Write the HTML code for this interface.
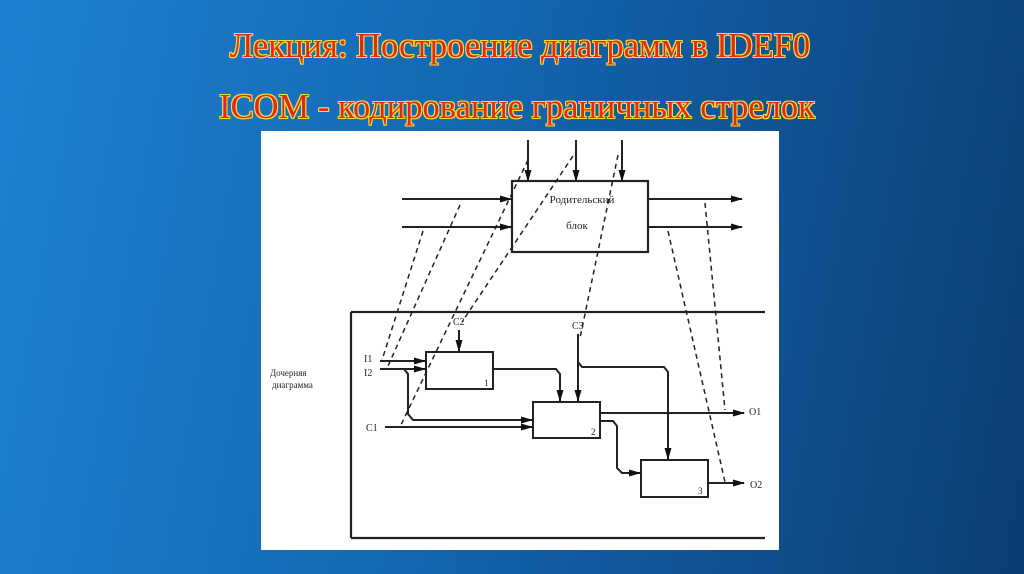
<!DOCTYPE html>
<html><head><meta charset="utf-8"><style>
html,body{margin:0;padding:0}
body{width:1024px;height:574px;overflow:hidden;position:relative;background:linear-gradient(100deg,#1e82d2 0%,#1466b0 45%,#0b3d72 100%);font-family:"Liberation Serif",serif}
.t{position:absolute;left:0;width:1024px;text-align:center;color:#e0281c;font-family:"Liberation Serif",serif;font-size:34.5px;
text-shadow:1px 0 #f2e23a,-1px 0 #f2e23a,0 1px #f2e23a,0 -1px #f2e23a,1px 1px #f2e23a,-1px -1px #f2e23a,1px -1px #f2e23a,-1px 1px #f2e23a;}
svg{position:absolute;left:0;top:0}
</style></head><body>
<div class="t" style="top:27px;left:8px">Лекция: Построение диаграмм в IDEF0</div>
<div class="t" style="top:88px;left:5px">ICOM - кодирование граничных стрелок</div>
<svg width="1024" height="574" viewBox="0 0 1024 574">
<defs><marker id="a" markerWidth="12" markerHeight="8" refX="11" refY="4" orient="auto" markerUnits="userSpaceOnUse"><path d="M0,0.5 L12,4 L0,7.5z" fill="#111"/></marker></defs>
<rect x="261" y="131" width="518" height="419" fill="#fff"/>
<g stroke="#222" stroke-width="2" fill="none">
<rect x="512" y="181" width="136" height="71" stroke-width="2.2"/>
<line x1="528" y1="140" x2="528" y2="181" marker-end="url(#a)"/>
<line x1="576" y1="140" x2="576" y2="181" marker-end="url(#a)"/>
<line x1="622" y1="140" x2="622" y2="181" marker-end="url(#a)"/>
<line x1="402" y1="199" x2="511" y2="199" marker-end="url(#a)"/>
<line x1="402" y1="227" x2="511" y2="227" marker-end="url(#a)"/>
<line x1="649" y1="199" x2="742" y2="199" marker-end="url(#a)"/>
<line x1="649" y1="227" x2="742" y2="227" marker-end="url(#a)"/>
<line x1="351" y1="312" x2="765" y2="312" stroke-width="2.2"/>
<line x1="351" y1="312" x2="351" y2="538" stroke-width="2.2"/>
<line x1="351" y1="538" x2="765" y2="538" stroke-width="2.2"/>
<rect x="426" y="352" width="67" height="37"/>
<rect x="533" y="402" width="67" height="36"/>
<rect x="641" y="460" width="67" height="37"/>
<line x1="380" y1="361" x2="425" y2="361" marker-end="url(#a)"/>
<line x1="380" y1="369" x2="425" y2="369" marker-end="url(#a)"/>
<polyline points="404,369 408,374 408,414 413,420 532,420" marker-end="url(#a)"/>
<line x1="385" y1="427" x2="532" y2="427" marker-end="url(#a)"/>
<line x1="459" y1="330" x2="459" y2="351" marker-end="url(#a)"/>
<line x1="578" y1="334" x2="578" y2="401" marker-end="url(#a)"/>
<polyline points="578,362 582,367 664,367 668,372 668,459" marker-end="url(#a)"/>
<polyline points="493,369 556,369 560,374 560,401" marker-end="url(#a)"/>
<line x1="600" y1="413" x2="744" y2="413" marker-end="url(#a)"/>
<polyline points="600,421 613,421 617,426 617,468 622,473 640,473" marker-end="url(#a)"/>
<line x1="708" y1="483" x2="744" y2="483" marker-end="url(#a)"/>
</g>
<g stroke="#222" stroke-width="1.5" stroke-dasharray="5,4" fill="none">
<line x1="460" y1="205" x2="388" y2="366"/>
<line x1="423" y1="231" x2="382" y2="360"/>
<line x1="528" y1="160" x2="400" y2="427"/>
<line x1="573" y1="156" x2="462" y2="322"/>
<line x1="618" y1="155" x2="580" y2="338"/>
<line x1="668" y1="231" x2="725" y2="482"/>
<line x1="705" y1="203" x2="725" y2="410"/>
</g>
<g font-family="Liberation Serif,serif" font-size="10" fill="#222">
<text x="582" y="203" text-anchor="middle" font-size="11">Родительский</text>
<text x="577" y="229" text-anchor="middle" font-size="11">блок</text>
<text x="364" y="362">I1</text>
<text x="364" y="376">I2</text>
<text x="366" y="431">C1</text>
<text x="453" y="325">C2</text>
<text x="572" y="329">C3</text>
<text x="749" y="415">O1</text>
<text x="750" y="488">O2</text>
<text x="484" y="386" font-size="9">1</text>
<text x="591" y="435" font-size="9">2</text>
<text x="698" y="494" font-size="9">3</text>
<text x="270" y="376" font-size="9">Дочерняя</text>
<text x="272" y="388" font-size="9">диаграмма</text>
</g>
</svg>
</body></html>
